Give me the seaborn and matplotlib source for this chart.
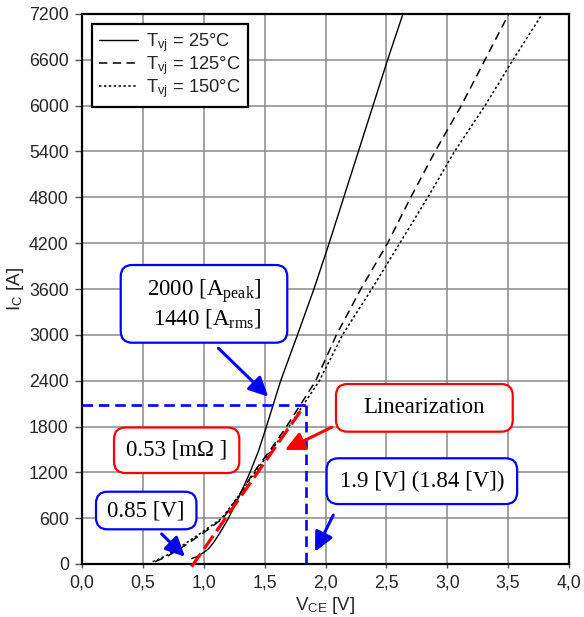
import numpy as np
import pandas as pd
import matplotlib
matplotlib.use("Agg")
import matplotlib.pyplot as plt
from matplotlib.patches import FancyBboxPatch
import seaborn as sns

# ---------------- data ----------------
v_25 = [0.90, 0.95, 1.00, 1.04, 1.08, 1.13, 1.20, 1.29, 1.38, 1.45, 1.515, 1.632, 1.77, 1.905, 2.03, 2.15, 2.27, 2.39, 2.51, 2.636]
i_25 = [70, 100, 150, 200, 280, 400, 590, 880, 1200, 1480, 1800, 2400, 3000, 3600, 4200, 4800, 5400, 6000, 6600, 7200]

v_125 = [0.60, 0.70, 0.83, 1.00, 1.16, 1.29, 1.41, 1.55, 1.68, 1.92, 2.09, 2.29, 2.51, 2.70, 2.90, 3.115, 3.31, 3.505]
i_125 = [30, 100, 226, 410, 600, 900, 1200, 1500, 1800, 2400, 3000, 3600, 4200, 4800, 5400, 6000, 6600, 7200]

v_150 = [0.58, 0.68, 0.81, 0.98, 1.15, 1.29, 1.42, 1.56, 1.70, 1.95, 2.14, 2.38, 2.61, 2.84, 3.06, 3.31, 3.54, 3.78]
i_150 = [30, 100, 226, 410, 600, 900, 1200, 1500, 1800, 2400, 3000, 3600, 4200, 4800, 5400, 6000, 6600, 7200]

lin_v = [0.90, 1.83]
lin_i = [-35, 2080]

op_v = 1.84
op_i = 2080

labels = ["T$_{\\mathsf{vj}}$ = 25°C", "T$_{\\mathsf{vj}}$ = 125°C", "T$_{\\mathsf{vj}}$ = 150°C"]

x_ticks = [0.0, 0.5, 1.0, 1.5, 2.0, 2.5, 3.0, 3.5, 4.0]
x_tick_labels = ["0,0", "0,5", "1,0", "1,5", "2,0", "2,5", "3,0", "3,5", "4,0"]
y_ticks = [0, 600, 1200, 1800, 2400, 3000, 3600, 4200, 4800, 5400, 6000, 6600, 7200]
y_tick_labels = [str(t) for t in y_ticks]

# annotation boxes: (x0, x1, y0, y1, text, color)
boxes = [
    (0.318, 1.686, 2897, 3914, "2000 [A$_{\\mathrm{peak}}$]\n1440 [A$_{\\mathrm{rms}}$]", "#0000ff"),
    (2.086, 3.538, 1732, 2356, "Linearization", "#ff0000"),
    (0.263, 1.292, 1191, 1787, "0.53 [mΩ ]", "#ff0000"),
    (0.115, 0.940, 454, 946, "0.85 [V]", "#0000ff"),
    (2.009, 3.574, 785, 1384, "1.9 [V] (1.84 [V])", "#0000ff"),
]
# arrows: (tail, tip, color)
arrows = [
    ((1.121, 2824), (1.530, 2190), "#0000ff"),
    ((2.051, 1790), (1.667, 1492), "#ff0000"),
    ((0.654, 393), (0.846, 96), "#0000ff"),
    ((2.064, 641), (1.914, 161), "#0000ff"),
]

# ---------------- style ----------------
sns.set_style("white")
plt.rcParams["font.family"] = ["Liberation Sans", "DejaVu Sans"]
plt.rcParams["mathtext.fontset"] = "custom"
plt.rcParams["mathtext.rm"] = "Liberation Serif"
plt.rcParams["mathtext.sf"] = "Liberation Sans"
plt.rcParams["mathtext.it"] = "Liberation Serif:italic"

W, H = 584, 617
fig = plt.figure(figsize=(W / 100, H / 100), dpi=100)
L, R, T, B = 82, 569, 14, 564
ax = fig.add_axes([L / W, 1 - B / H, (R - L) / W, (B - T) / H])

df = pd.concat([
    pd.DataFrame({"V": v_25, "I": i_25, "T": labels[0]}),
    pd.DataFrame({"V": v_125, "I": i_125, "T": labels[1]}),
    pd.DataFrame({"V": v_150, "I": i_150, "T": labels[2]}),
])
styles = {labels[0]: dict(lw=1.0, linestyle="-"),
          labels[1]: dict(lw=1.1, linestyle=(0, (5.5, 3.5))),
          labels[2]: dict(lw=1.1, linestyle=(0, (1.6, 1.6)))}
for lab in labels:
    sub = df[df["T"] == lab]
    sns.lineplot(data=sub, x="V", y="I", ax=ax, color="black", sort=False,
                 estimator=None, label=lab, zorder=3, **styles[lab])

# linearization & operating point
ax.plot(lin_v, lin_i, color="#ff0000", lw=2.3, linestyle=(0, (5, 1.8)), zorder=4, clip_on=False)
ax.plot([0, op_v], [op_i, op_i], color="#0000ff", lw=1.9, linestyle=(0, (4, 2.2)), zorder=4)
ax.plot([op_v, op_v], [op_i, 0], color="#0000ff", lw=1.9, linestyle=(0, (4, 2.2)), zorder=4)

ax.set_xlim(0, 4)
ax.set_ylim(0, 7200)
ax.set_xticks(x_ticks)
ax.set_xticklabels(x_tick_labels)
ax.set_yticks(y_ticks)
ax.set_yticklabels(y_tick_labels)
ax.tick_params(axis="both", direction="out", width=1, color="#555555",
               labelsize=12.8, bottom=True, left=True)
ax.tick_params(axis="x", length=3, pad=4.5)
ax.tick_params(axis="y", length=5, pad=4.5)
ax.grid(True, color="#8a8a8a", lw=1.1, zorder=0)
ax.set_axisbelow(True)
for s in ax.spines.values():
    s.set_color("black")
    s.set_linewidth(1.6)

ax.set_xlabel("V$_{\\mathsf{CE}}$ [V]", fontsize=13.5, labelpad=2.5)
ax.set_ylabel("I$_{\\mathsf{C}}$ [A]", fontsize=13.5)
ax.yaxis.set_label_coords(-0.114, 0.5)

leg = ax.legend(loc="upper left", bbox_to_anchor=(10 / 487, 1 - 10 / 550), borderaxespad=0,
                fontsize=13.2, frameon=True, fancybox=False, framealpha=1,
                edgecolor="black", handlelength=2.1, handletextpad=0.45,
                labelspacing=0.0, borderpad=0.4)
leg.get_frame().set_linewidth(1.6)
leg.set_zorder(6)

# annotation boxes
aspect = (7200 / (B - T)) / (4 / (R - L))
for x0, x1, y0, y1, txt, col in boxes:
    p = FancyBboxPatch((x0, y0), x1 - x0, y1 - y0,
                       boxstyle="round,pad=0,rounding_size=0.095",
                       mutation_aspect=aspect, transform=ax.transData,
                       facecolor="white", edgecolor=col, lw=1.6, zorder=7, clip_on=False)
    ax.add_patch(p)
    ax.text((x0 + x1) / 2, (y0 + y1) / 2, txt, ha="center", va="center",
            multialignment="right", fontsize=16.5, family="Liberation Serif",
            color="black", zorder=8, linespacing=1.1)

for tail, tip, col in arrows:
    ax.annotate("", xy=tip, xytext=tail,
                arrowprops=dict(arrowstyle="-|>,head_length=0.45,head_width=0.22",
                                color=col, lw=2.2, mutation_scale=26,
                                shrinkA=0, shrinkB=0), zorder=9)

fig.savefig("out.png", dpi=100)
